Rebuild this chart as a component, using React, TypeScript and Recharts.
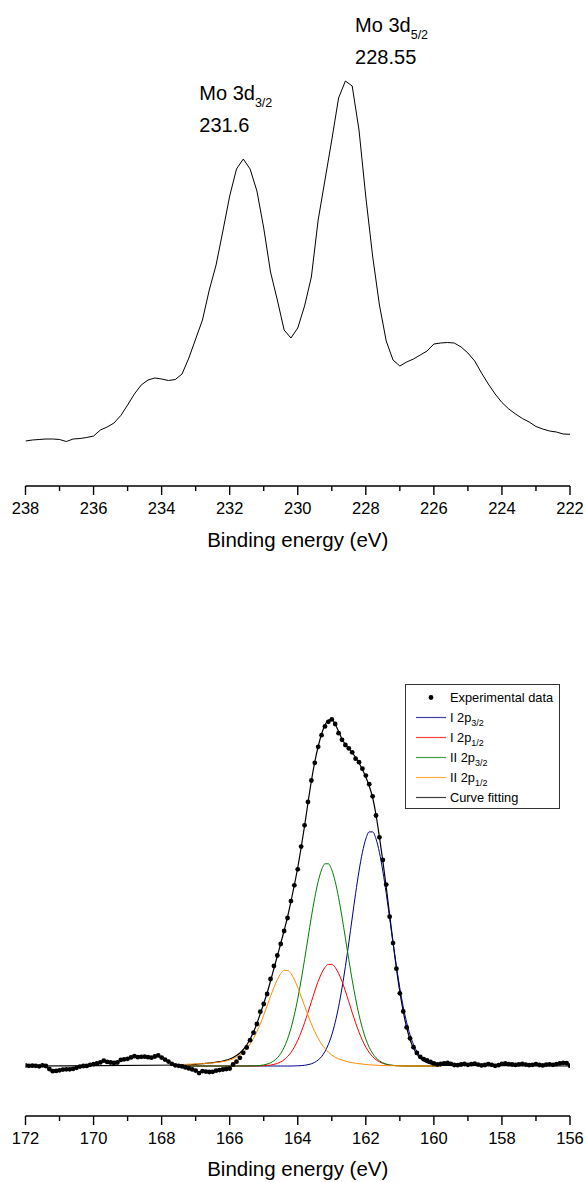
import React from 'react';
import { LineChart, ComposedChart, Line, XAxis, YAxis, ReferenceDot, Legend } from 'recharts';

const FONT = '"Liberation Sans", Arial, Helvetica, sans-serif';

// ---------- Mo 3d spectrum (238 -> 222 eV, 0.2 eV step) ----------
const moStart = 238;
const moStep = 0.2;
const moIntensity = [
  45, 46, 46.5, 47, 47, 46.5, 44.5, 47, 47.5, 48.5,
  50, 56, 59, 63, 70.5, 81, 92, 101, 106, 108,
  107, 105.5, 106.5, 112, 128, 147, 166, 196, 221, 255,
  290, 317, 327, 317, 295, 258, 214, 186, 156, 148,
  158, 180, 209, 266, 306, 346, 388, 405, 400, 356,
  289, 230, 181, 145, 126, 120, 124, 127, 131, 135,
  142, 143, 143.5, 143, 139, 133, 125, 113, 102, 92,
  83.5, 77, 72, 67.5, 64, 59.5, 57, 55, 54, 52,
  51.7,
];
const moTicks = [238, 237, 236, 235, 234, 233, 232, 231, 230, 229, 228, 227, 226, 225, 224, 223, 222];
const moPeaks = [
  { sub: '3/2', energy: 231.6, intensity: 327 },
  { sub: '5/2', energy: 228.55, intensity: 407 },
];

// ---------- S 2p spectrum ----------
const sTicks = [172, 171, 170, 169, 168, 167, 166, 165, 164, 163, 162, 161, 160, 159, 158, 157, 156];

// experimental points, 172 -> 156 eV, 0.1 eV step
const expStart = 172;
const expStep = 0.1;
const sExperimental = [
  0.5, 0.2, 0.3, 0.2, -0.3, 0.6, 0, -3, -5.2, -4.9,
  -4.3, -3.6, -3.3, -3.3, -2.8, -1.8, -0.6, 0, 0.1, 1.2,
  1.8, 2.6, 3.6, 5.3, 4.1, 3.5, 3, 3.5, 6.1, 6.7,
  7.2, 8.6, 9.8, 8.8, 9.2, 9.3, 8.8, 8.3, 9.5, 10.6,
  8.4, 6.4, 4.4, 2.2, 0.7, 0.2, -0.4, -1.4, -2.4, -3.4,
  -4.6, -7.1, -5.1, -5.6, -6, -5.8, -4.7, -4.1, -3.5, -3,
  -2.5, 1.5, 4.3, 8.2, 13.2, 18.5, 25.8, 33.3, 42, 54.3,
  62, 72, 87, 100, 110.5, 122, 135, 148, 164.9, 180.7,
  196.7, 219.4, 240.7, 264, 285.5, 303.2, 319.2, 330.8, 339.6, 344.2,
  346.6, 342, 332.8, 326.2, 321, 317.7, 313.7, 307.3, 303.8, 297.3,
  290.4, 281.8, 269.7, 250.5, 228.7, 206, 181.4, 149.3, 122.9, 97.3,
  72.7, 54.5, 38.6, 27.7, 18.8, 13.1, 9.2, 6.8, 5.6, 4.2,
  2.5, 1.5, 2, 2.6, 3, 2.2, 1, 0.8, 1.5, 2,
  1.2, 1.8, 2.4, 1.4, 0.6, 1, 1.8, 1.2, 0.2, 0.8,
  2.2, 2.6, 1.8, 1.5, 1.1, 1.6, 2, 1.4, 0.8, 1.2,
  1.9, 1, 0.6, 1.3, 1.7, 1.2, 1.8, 2.6, 3.2, 2.8,
  0.3,
];

// fitted curves, 167.3 -> 159.8 eV, 0.1 eV step
const fitStart = 167.3;
const fitStep = 0.1;
const fitBaselineEnds = [172, 156];
const curveFit = [
  1.0, 1.2, 1.4, 1.7, 2.0, 2.3, 2.6, 3.0, 3.4, 3.8,
  4.3, 5.0, 5.8, 7.0, 8.5, 10.5, 13, 16.5, 21, 27,
  34, 42.5, 52.5, 62.5, 73, 85, 97.5, 110, 122.5, 135.5,
  149, 164.5, 181, 198.5, 218.5, 240, 263, 285, 304, 319.5,
  332, 341, 346, 346.5, 342, 334.5, 327, 321.5, 317.5, 313.5,
  308.5, 303, 296.5, 289, 280, 268.5, 251, 229, 205, 179,
  151, 123.5, 97.5, 74, 54.5, 38.5, 26.5, 18, 12, 8,
  5.2, 3.4, 2.3, 1.5, 1.0, 0.7,
];
const i2p32 = [
  0, 0, 0, 0, 0, 0, 0, 0, 0, 0,
  0, 0, 0, 0, 0, 0, 0, 0, 0, 0,
  0, 0, 0, 0, 0, 0, 0, 0, 0, 0,
  0, 0, 0.1, 0.2, 0.4, 0.7, 1.3, 2.2, 3.7, 6.0,
  9.4, 14.5, 21.6, 31.1, 43.6, 59.2, 77.9, 99.5, 123.2, 148.0,
  172.5, 194.9, 213.6, 227.1, 234.1, 234.1, 227.1, 213.6, 194.9, 172.5,
  148.0, 123.2, 99.5, 77.9, 59.2, 43.6, 31.1, 21.6, 14.5, 9.4,
  6.0, 3.7, 2.2, 1.3, 0.7, 0.4,
];
const i2p12 = [
  0, 0, 0, 0, 0, 0, 0, 0, 0, 0,
  0, 0, 0, 0, 0, 0, 0, 0, 0, 0,
  0, 0.1, 0.2, 0.3, 0.6, 0.9, 1.6, 2.6, 4.1, 6.3,
  9.4, 13.5, 18.9, 25.7, 33.8, 43.2, 53.5, 64.2, 74.9, 84.6,
  92.7, 98.6, 101.6, 101.6, 98.6, 92.7, 84.6, 74.9, 64.2, 53.5,
  43.2, 33.8, 25.7, 18.9, 13.5, 9.4, 6.3, 4.1, 2.6, 1.6,
  0.9, 0.6, 0.3, 0.2, 0.1, 0, 0, 0, 0, 0,
  0, 0, 0, 0, 0, 0,
];
const ii2p32 = [
  0, 0, 0, 0, 0, 0, 0, 0, 0, 0,
  0, 0, 0, 0, 0, 0, 0, 0, 0, 0.1,
  0.2, 0.3, 0.6, 1.1, 1.9, 3.2, 5.2, 8.2, 12.5, 18.6,
  26.9, 37.7, 51.1, 67.3, 85.9, 106.4, 127.8, 149.0, 168.3, 184.5,
  196.1, 202.2, 202.2, 196.1, 184.5, 168.3, 149.0, 127.8, 106.4, 85.9,
  67.3, 51.1, 37.7, 26.9, 18.6, 12.5, 8.2, 5.2, 3.2, 1.9,
  1.1, 0.6, 0.3, 0.2, 0.1, 0, 0, 0, 0, 0,
  0, 0, 0, 0, 0, 0,
];
const ii2p12 = [
  1.7, 1.8, 1.9, 2.1, 2.2, 2.4, 2.6, 2.9, 3.1, 3.4,
  3.9, 4.4, 5.1, 6.0, 7.2, 8.8, 11.0, 13.8, 17.5, 22.0,
  27.7, 34.4, 42.2, 50.9, 60.1, 69.6, 78.6, 86.5, 92.4, 95.6,
  95.6, 92.4, 86.5, 78.6, 69.6, 60.1, 50.9, 42.2, 34.4, 27.7,
  22.0, 17.5, 13.8, 11.0, 8.8, 7.2, 6.0, 4.9, 4.0, 3.3,
  2.8, 2.3, 1.9, 1.5, 1.2, 1.0, 0.8, 0.6, 0.5, 0.4,
  0.3, 0.3, 0.2, 0.2, 0.1, 0.1, 0.1, 0.1, 0, 0,
  0, 0, 0, 0, 0, 0,
];

// ---------- derived tables ----------
const moData = moIntensity.map((v, i) => ({ e: moStart - i * moStep, v }));
const expData = sExperimental.map((v, i) => ({ e: expStart - i * expStep, v }));
const onFitGrid = (values: number[]) => values.map((v, i) => ({ e: fitStart - i * fitStep, v }));
const fitData = [
  { e: fitBaselineEnds[0], v: 0 },
  ...onFitGrid(curveFit),
  { e: fitBaselineEnds[1], v: 0 },
];

const components = [
  { key: 'i32', name: 'I 2p', sub: '3/2', data: onFitGrid(i2p32), color: '#00008b' },
  { key: 'i12', name: 'I 2p', sub: '1/2', data: onFitGrid(i2p12), color: '#ff0000' },
  { key: 'ii32', name: 'II 2p', sub: '3/2', data: onFitGrid(ii2p32), color: '#008000' },
  { key: 'ii12', name: 'II 2p', sub: '1/2', data: onFitGrid(ii2p12), color: '#ff8c00' },
];

const AxisTick = (props: any) => {
  const { x, y, payload } = props;
  const major = payload.value % 2 === 0;
  return (
    <g>
      <line x1={x} x2={x} y1={y} y2={y + (major ? 9 : 5)} stroke="#000" strokeWidth={1.4} />
      {major && (
        <text x={x} y={y + 28} textAnchor="middle" fontSize={16.5} fontFamily={FONT} fill="#000">
          {payload.value}
        </text>
      )}
    </g>
  );
};

const PeakTag = ({ cx, cy, dx, dy, sub, value }: any) => (
  <g>
    <text x={cx + dx} y={cy + dy} fontSize={20} fontFamily={FONT} fill="#000">
      Mo 3d<tspan dy={7} fontSize={12.5}>{sub}</tspan>
    </text>
    <text x={cx + dx} y={cy + dy + 32} fontSize={20} fontFamily={FONT} fill="#000">
      {value}
    </text>
  </g>
);

const tagOffsets: Record<string, { dx: number; dy: number }> = {
  '3/2': { dx: -44, dy: -59 },
  '5/2': { dx: 8, dy: -47 },
};

const SLegend = () => {
  const rows = [
    { name: 'Experimental data', sub: '', color: '#000', dot: true },
    ...components.map(c => ({ name: c.name, sub: c.sub, color: c.color, dot: false })),
    { name: 'Curve fitting', sub: '', color: '#000', dot: false },
  ];
  return (
    <svg width={156} height={126} style={{ display: 'block' }}>
      <rect x={0.5} y={0.5} width={154} height={124} fill="#fff" stroke="#333" strokeWidth={1} />
      {rows.map((r, i) => {
        const cy = 13.5 + i * 20;
        return (
          <g key={i}>
            {r.dot ? (
              <circle cx={26} cy={cy} r={2.4} fill="#000" />
            ) : (
              <line x1={11} x2={41} y1={cy} y2={cy} stroke={r.color} strokeWidth={1.2} strokeOpacity={0.75} />
            )}
            <text x={45} y={cy + 4.5} fontSize={12.8} fontFamily={FONT} fill="#000">
              {r.name}
              {r.sub && <tspan dy={3.5} fontSize={9}>{r.sub}</tspan>}
            </text>
          </g>
        );
      })}
    </svg>
  );
};

const axisTitle = (offset: number) => ({
  value: 'Binding energy (eV)',
  position: 'insideBottom' as const,
  offset,
  fill: '#000',
  fontSize: 20.5,
  fontFamily: FONT,
});

const App: React.FC = () => {
  return (
    <div style={{ position: 'absolute', left: 0, top: 0, width: 586, height: 1182, overflow: 'hidden', background: '#fff' }}>
      <div style={{ position: 'absolute', left: 0, top: 0 }}>
        <LineChart width={586} height={590} margin={{ top: 8, right: 16, bottom: 0, left: 25.5 }}>
          <XAxis
            type="number"
            dataKey="e"
            domain={[222, 238]}
            reversed
            ticks={moTicks}
            interval={0}
            allowDataOverflow
            height={104}
            tickSize={0}
            tickMargin={0}
            tickLine={false}
            tick={<AxisTick />}
            axisLine={{ stroke: '#000', strokeWidth: 1.4 }}
            label={axisTitle(43.3)}
          />
          <YAxis hide type="number" domain={[0, 478]} allowDataOverflow />
          <Line
            data={moData}
            dataKey="v"
            type="linear"
            stroke="#000"
            strokeWidth={1}
            dot={false}
            isAnimationActive={false}
          />
          {moPeaks.map(p => (
            <ReferenceDot
              key={p.sub}
              x={p.energy}
              y={p.intensity}
              r={0}
              ifOverflow="visible"
              shape={(s: any) => (
                <PeakTag
                  cx={s.cx}
                  cy={s.cy}
                  dx={tagOffsets[p.sub].dx}
                  dy={tagOffsets[p.sub].dy}
                  sub={p.sub}
                  value={p.energy}
                />
              )}
            />
          ))}
        </LineChart>
      </div>

      <div style={{ position: 'absolute', left: 0, top: 590 }}>
        <ComposedChart width={586} height={592} margin={{ top: 10, right: 16, bottom: 0, left: 25.5 }}>
          <XAxis
            type="number"
            dataKey="e"
            domain={[156, 172]}
            reversed
            ticks={sTicks}
            interval={0}
            allowDataOverflow
            height={66}
            tickSize={0}
            tickMargin={0}
            tickLine={false}
            tick={<AxisTick />}
            axisLine={{ stroke: '#000', strokeWidth: 1.4 }}
            label={axisTitle(5.7)}
          />
          <YAxis hide type="number" domain={[-50, 466]} allowDataOverflow />
          <Line
            data={fitData}
            dataKey="v"
            type="monotone"
            stroke="#000"
            strokeWidth={1.2}
            dot={false}
            isAnimationActive={false}
          />
          {components.map(c => (
            <Line
              key={c.key}
              data={c.data}
              dataKey="v"
              type="monotone"
              stroke={c.color}
              strokeWidth={1}
              dot={false}
              isAnimationActive={false}
            />
          ))}
          <Line
            data={expData}
            dataKey="v"
            type="linear"
            stroke="none"
            dot={{ r: 2.4, fill: '#000', stroke: 'none' }}
            isAnimationActive={false}
          />
          <Legend
            layout="horizontal"
            align="center"
            verticalAlign="middle"
            content={() => <SLegend />}
            wrapperStyle={{ left: 405, top: 94, width: 156, height: 126 }}
          />
        </ComposedChart>
      </div>
    </div>
  );
};

export default App;
